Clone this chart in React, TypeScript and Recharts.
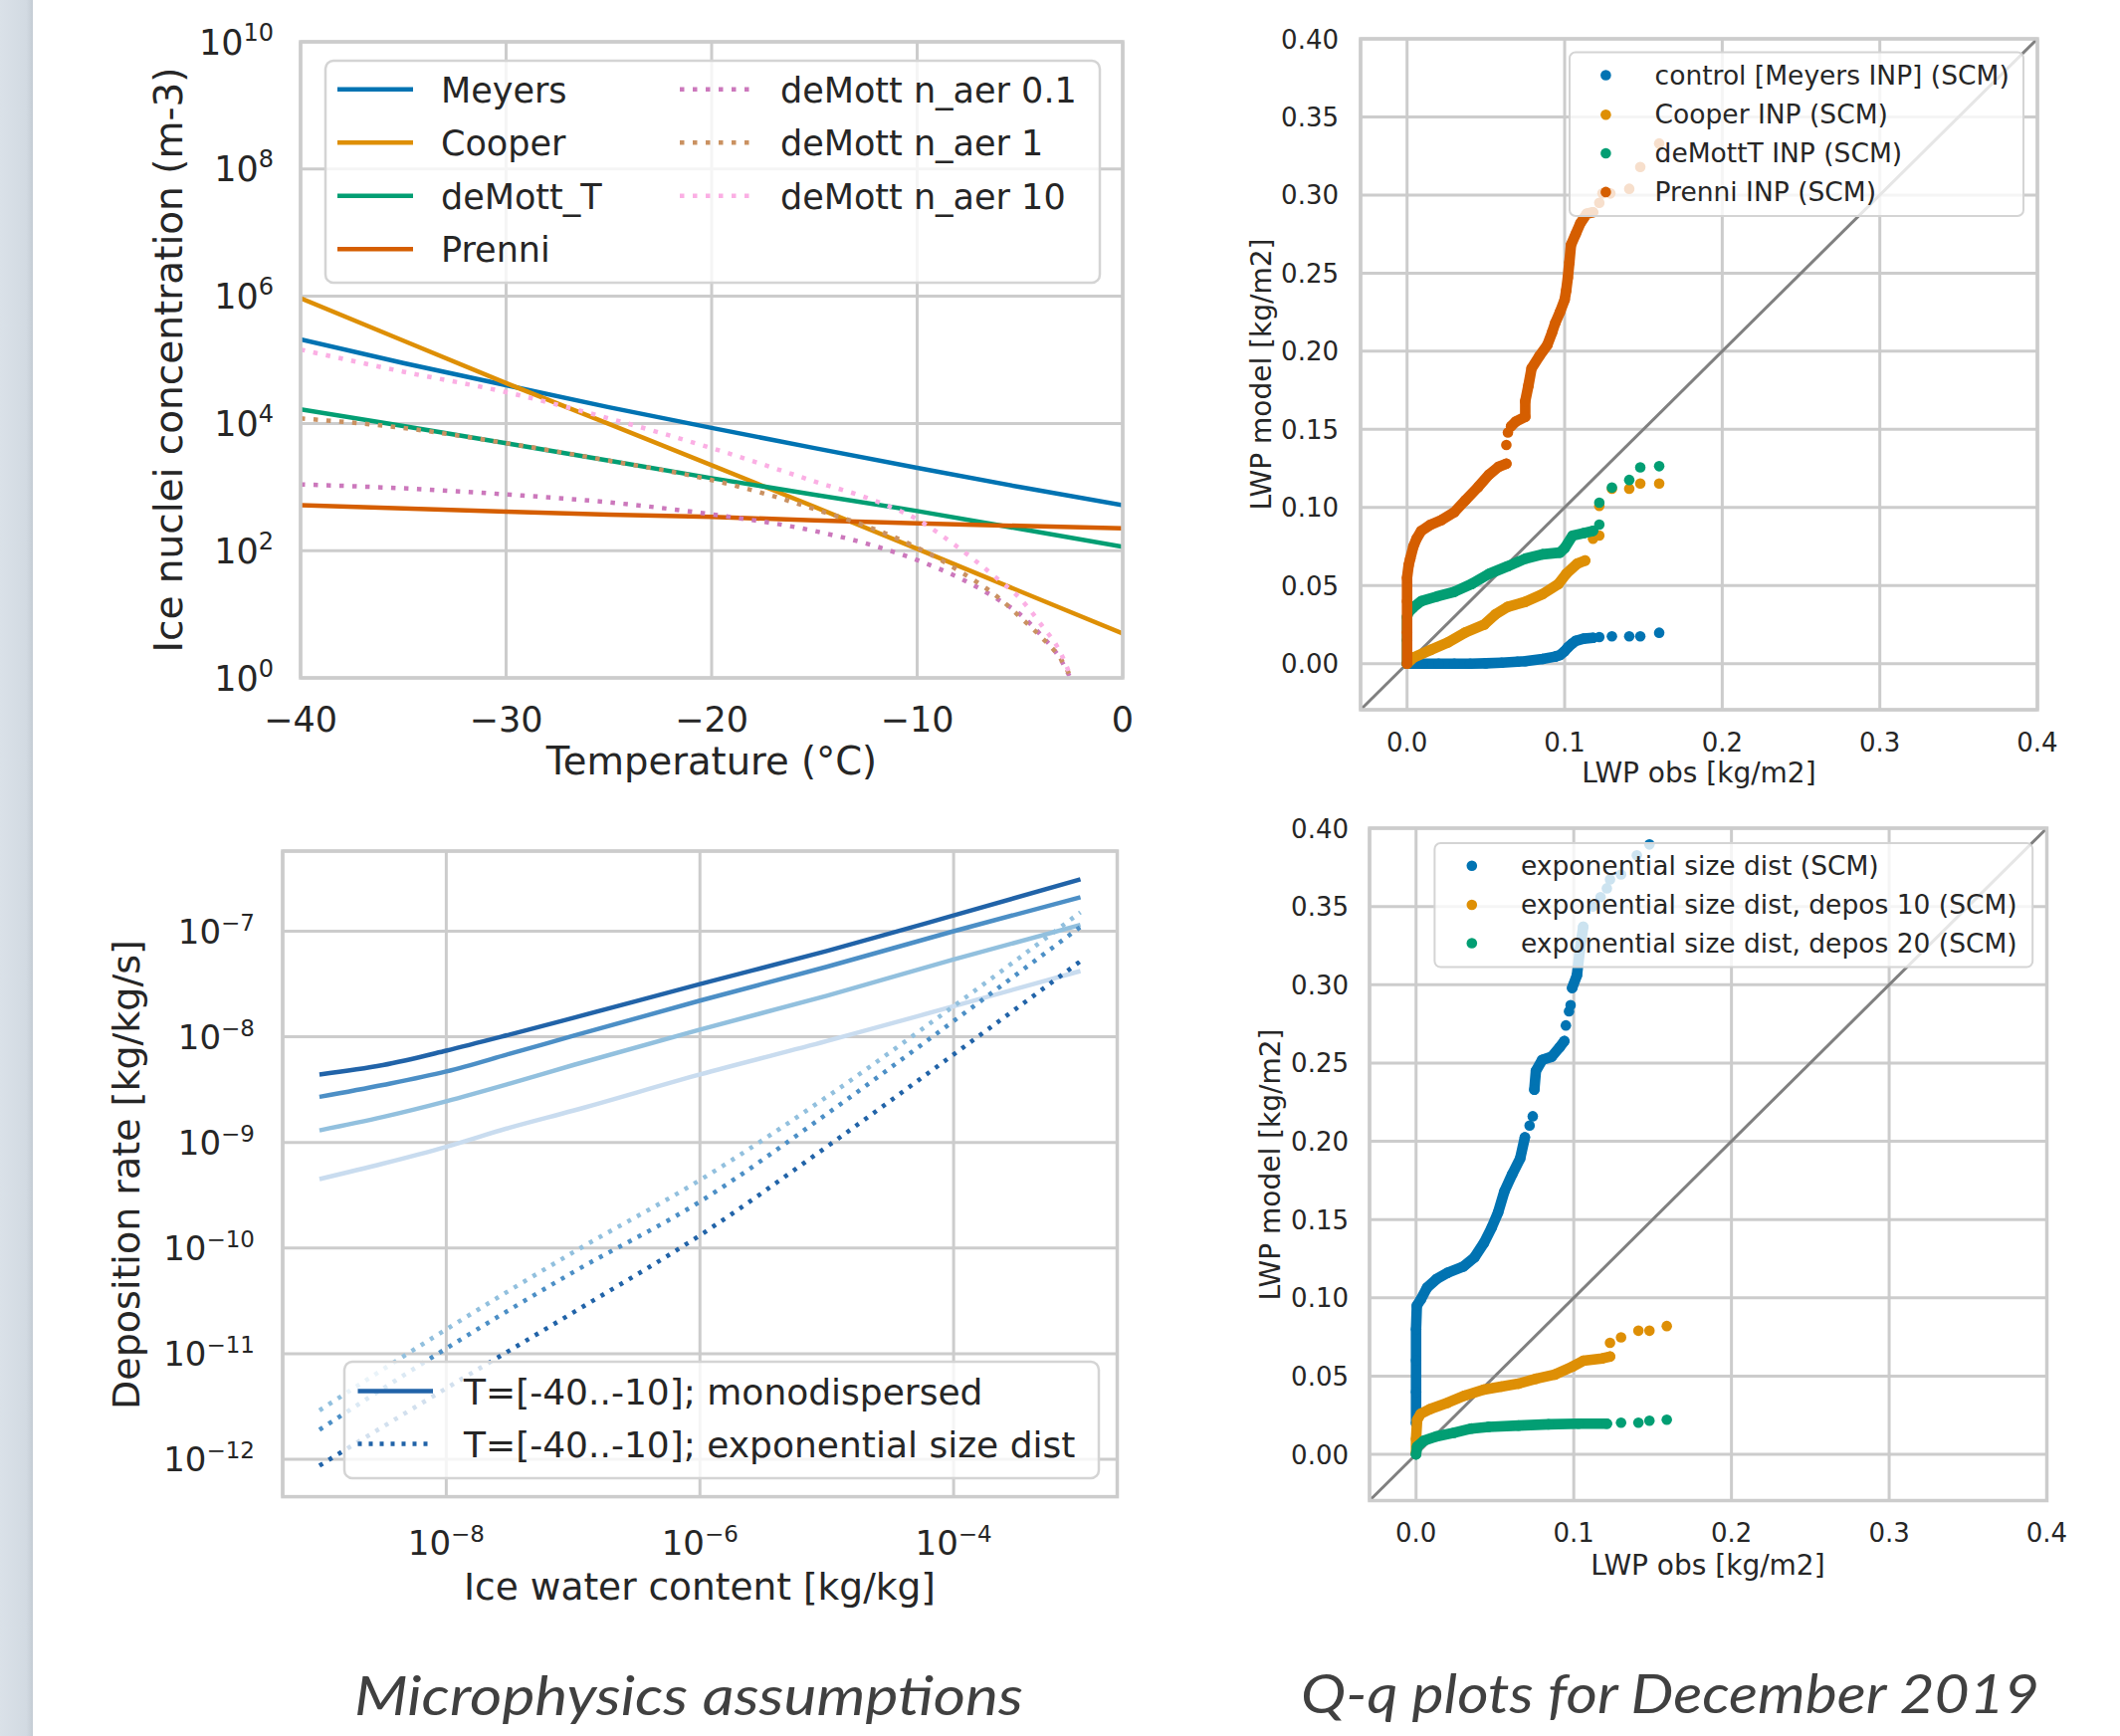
import React from 'react';
import {
  LineChart, Line, ScatterChart, Scatter, XAxis, YAxis, CartesianGrid, ReferenceLine,
} from 'recharts';

const FONT = '"DejaVu Sans", Verdana, sans-serif';
const INK = '#262626';
const GRID = '#cccccc';

// seaborn "colorblind" palette
const BLUE = '#0173b2';
const ORANGE = '#de8f05';
const GREEN = '#029e73';
const RED = '#d55e00';
const PINK = '#cc78bc';
const BROWN = '#ca9161';
const LIGHTPINK = '#fbafe4';

// Blues shades used for the deposition panel
const B1 = '#2163a8';
const B2 = '#4c8fc6';
const B3 = '#92c0de';
const B4 = '#c9dcef';

// ---------- top left: ice nuclei concentration vs temperature ----------
const tempSteps = [-40, -35, -30, -25, -20, -15, -10, -5, 0];
const meyersN = [2.1e5, 8.9e4, 4.0e4, 1.8e4, 8.5e3, 4.1e3, 2.0e3, 1.0e3, 5.2e2];
const cooperN = [9.3e5, 2.0e5, 4.3e4, 9.8e3, 2.2e3, 4.9e2, 1.07e2, 23, 5.0];
const demottTN = [1.66e4, 9.1e3, 4.9e3, 2.6e3, 1.38e3, 7.6e2, 4.2e2, 2.2e2, 1.15e2];
const prenniN = [5.2e2, 4.6e2, 4.1e2, 3.7e2, 3.4e2, 3.0e2, 2.7e2, 2.45e2, 2.24e2];

const aer01Temps = [-40, -35, -30, -25, -20, -15, -12, -10, -8, -6, -5, -4, -3, -2.55];
const aer01N = [1.1e3, 955, 767, 575, 372, 204, 117, 71, 38, 16.6, 10, 4.8, 1.9, 1];
const aer1Temps = [-40, -35, -30, -25, -20, -17, -15, -12.5, -10, -8, -6, -5, -4, -3, -2.5];
const aer1N = [1.2e4, 8.5e3, 4.9e3, 2.6e3, 1.29e3, 7.2e2, 4.5e2, 2.45e2, 1.12e2, 49, 17.8, 9.1, 4.5, 1.95, 1];
const aer10Temps = [-40, -35, -30, -25, -20, -15, -12, -10, -8, -6, -5, -4, -3, -2.5];
const aer10N = [1.45e5, 6.5e4, 3.1e4, 1.2e4, 4.1e3, 1.23e3, 6.0e2, 3.1e2, 1.12e2, 34, 17.8, 7.1, 2.4, 1];

const tempTicks = [-40, -30, -20, -10, 0];
const inpTicks = [1, 1e2, 1e4, 1e6, 1e8, 1e10];

// ---------- bottom left: deposition rate vs ice water content ----------
const iwcMono = [1e-9, 3.16e-9, 1e-8, 3.16e-8, 1e-7, 1e-6, 1e-5, 1e-4, 1e-3];
const monoT1 = [4.4e-9, 5.4e-9, 7.4e-9, 1.05e-8, 1.51e-8, 3.16e-8, 6.5e-8, 1.41e-7, 3.1e-7];
const monoT2 = [2.7e-9, 3.5e-9, 4.7e-9, 6.9e-9, 1.02e-8, 2.2e-8, 4.6e-8, 1.0e-7, 2.1e-7];
const monoT3 = [1.3e-9, 1.74e-9, 2.45e-9, 3.6e-9, 5.4e-9, 1.17e-8, 2.45e-8, 5.4e-8, 1.15e-7];
const monoT4 = [4.5e-10, 6.3e-10, 9.1e-10, 1.38e-9, 2.0e-9, 4.4e-9, 9.1e-9, 1.95e-8, 4.2e-8];
const iwcExpo = [1e-9, 1e-8, 1e-7, 1e-6, 1e-5, 1e-4, 1e-3];
const expoT1 = [8.7e-13, 4.7e-12, 2.45e-11, 1.32e-10, 9.1e-10, 6.8e-9, 5.2e-8];
const expoT2 = [1.9e-12, 1.12e-11, 5.9e-11, 2.75e-10, 1.86e-9, 1.41e-8, 1.1e-7];
const expoT3 = [2.9e-12, 1.7e-11, 9.1e-11, 4.4e-10, 2.7e-9, 1.95e-8, 1.51e-7];
const iwcTicks = [1e-8, 1e-6, 1e-4];
const depTicks = [1e-12, 1e-11, 1e-10, 1e-9, 1e-8, 1e-7];

// ---------- right column: q-q plots (obs, model) ----------
const controlDense = [[0, 0], [0.01, 0], [0.02, 0], [0.03, 0], [0.04, 0], [0.05, 0.0002], [0.06, 0.0006], [0.07, 0.0012], [0.075, 0.0016], [0.086, 0.003], [0.094, 0.0045], [0.097, 0.0055], [0.1, 0.008], [0.102, 0.0104], [0.105, 0.013], [0.107, 0.0146], [0.112, 0.016], [0.118, 0.0165]];
const controlTail = [[0.122, 0.017], [0.13, 0.0175], [0.141, 0.0175], [0.148, 0.0175], [0.16, 0.0198]];
const cooperDense = [[0, 0], [0.004, 0.0039], [0.015, 0.0088], [0.026, 0.0136], [0.037, 0.02], [0.049, 0.025], [0.056, 0.0315], [0.064, 0.0364], [0.075, 0.0396], [0.086, 0.0445], [0.096, 0.051], [0.101, 0.0575], [0.108, 0.064], [0.113, 0.066]];
const cooperTail = [[0.118, 0.08], [0.122, 0.082], [0.122, 0.101], [0.13, 0.112], [0.141, 0.112], [0.148, 0.1153], [0.16, 0.1153]];
const demottDense = [[0, 0], [0, 0.015], [0, 0.03], [0.001, 0.033], [0.004, 0.036], [0.009, 0.04], [0.019, 0.043], [0.03, 0.046], [0.041, 0.051], [0.052, 0.0575], [0.064, 0.0624], [0.075, 0.0672], [0.086, 0.07], [0.097, 0.0711], [0.1, 0.074], [0.105, 0.0819], [0.112, 0.0835], [0.118, 0.085]];
const demottTail = [[0.122, 0.089], [0.122, 0.103], [0.13, 0.1127], [0.141, 0.1176], [0.148, 0.1257], [0.16, 0.1264]];
const prenniDense = [[0, 0], [0, 0.02], [0, 0.04], [0, 0.055], [0.001, 0.063], [0.002, 0.0672], [0.004, 0.075], [0.006, 0.08], [0.009, 0.085], [0.015, 0.089], [0.022, 0.092], [0.03, 0.097], [0.037, 0.1046], [0.045, 0.113], [0.052, 0.121], [0.058, 0.126], [0.063, 0.128]];
const prenniUpper = [[0.066, 0.152], [0.069, 0.155], [0.075, 0.158], [0.075, 0.168], [0.077, 0.178], [0.079, 0.189], [0.084, 0.197], [0.089, 0.204], [0.092, 0.212], [0.094, 0.218], [0.097, 0.225], [0.1, 0.233], [0.101, 0.239], [0.102, 0.247], [0.103, 0.257], [0.104, 0.268], [0.107, 0.275], [0.11, 0.282], [0.114, 0.288], [0.118, 0.289]];
const prenniTail = [[0.063, 0.14], [0.064, 0.148], [0.122, 0.295], [0.124, 0.301], [0.129, 0.301], [0.141, 0.304], [0.148, 0.318], [0.16, 0.333]];

const expDense = [[0, 0.02], [0, 0.04], [0, 0.06], [0, 0.08], [0.0005, 0.095], [0.003, 0.099], [0.007, 0.1066], [0.013, 0.112], [0.02, 0.116], [0.03, 0.12], [0.037, 0.1258], [0.043, 0.135], [0.048, 0.145], [0.052, 0.1545], [0.056, 0.168], [0.061, 0.179], [0.066, 0.189], [0.069, 0.2025]];
const expMid = [[0.075, 0.233], [0.076, 0.245], [0.08, 0.252], [0.086, 0.254], [0.091, 0.26], [0.094, 0.264]];
const expUpper = [[0.099, 0.298], [0.102, 0.306], [0.104, 0.323], [0.106, 0.337]];
const expTail = [[0.072, 0.21], [0.074, 0.216], [0.095, 0.274], [0.097, 0.283], [0.098, 0.287], [0.112, 0.35], [0.117, 0.356], [0.121, 0.3616], [0.123, 0.3673], [0.13, 0.3704], [0.14, 0.3827], [0.148, 0.3896]];
const depos10Dense = [[0, 0.001], [0, 0.01], [0.0007, 0.022], [0.003, 0.026], [0.009, 0.029], [0.02, 0.033], [0.031, 0.0376], [0.043, 0.0414], [0.054, 0.0433], [0.065, 0.0452], [0.076, 0.0483], [0.088, 0.051], [0.099, 0.056], [0.106, 0.0598], [0.118, 0.0613], [0.123, 0.0625]];
const depos10Tail = [[0.123, 0.0713], [0.13, 0.0748], [0.141, 0.079], [0.148, 0.079], [0.159, 0.082]];
const depos20Dense = [[0, 0], [0.0007, 0.005], [0.005, 0.0088], [0.013, 0.0115], [0.024, 0.0138], [0.035, 0.0165], [0.046, 0.0176], [0.065, 0.0184], [0.084, 0.0192], [0.103, 0.0196], [0.121, 0.0196]];
const depos20Tail = [[0.13, 0.0203], [0.141, 0.0203], [0.148, 0.0215], [0.159, 0.0222]];

const lwpDomain = [-0.0295, 0.4];
const lwpXTicks = [0, 0.1, 0.2, 0.3, 0.4];
const lwpYTicks = [0, 0.05, 0.1, 0.15, 0.2, 0.25, 0.3, 0.35, 0.4];
const oneToOne = [{ x: -0.0295, y: -0.0295 }, { x: 0.4, y: 0.4 }];

// plot-area boxes on the page
const P1 = { L: 302, T: 42, R: 1128, B: 681 };
const P2 = { L: 1367, T: 39, R: 2047, B: 713 };
const P3 = { L: 284, T: 855, R: 1122.5, B: 1503.6 };
const P4 = { L: 1376, T: 832, R: 2056.5, B: 1507.5 };

const pts = (xs: number[], ys: number[]) => xs.map((x, i) => ({ x, y: ys[i] }));
const pairs = (a: number[][]) => a.map(([x, y]) => ({ x, y }));
const expStr = (e: number) => (e < 0 ? '\u2212' + Math.abs(e) : String(e));

const powTick = (anchor: 'end' | 'middle', size: number, sup: number, dyBase: number, rise: number) =>
  (props: any) => {
    const { x, y, payload } = props;
    const e = Math.round(Math.log10(payload.value));
    return (
      <text x={x} y={y + dyBase} textAnchor={anchor} fontFamily={FONT} fontSize={size} fill={INK}>
        10<tspan dy={-rise} fontSize={sup}>{expStr(e)}</tspan>
      </text>
    );
  };

const numTick = (anchor: 'end' | 'middle', size: number, dyBase: number, fmt: (v: number) => string) =>
  (props: any) => {
    const { x, y, payload } = props;
    return (
      <text x={x} y={y + dyBase} textAnchor={anchor} fontFamily={FONT} fontSize={size} fill={INK}>
        {fmt(payload.value)}
      </text>
    );
  };

const tempFmt = (v: number) => (v < 0 ? '\u2212' + Math.abs(v) : String(v));

const p1Series = [
  { name: 'Meyers', data: pts(tempSteps, meyersN), color: BLUE, dash: undefined, curve: 'linear' },
  { name: 'Cooper', data: pts(tempSteps, cooperN), color: ORANGE, dash: undefined, curve: 'linear' },
  { name: 'deMott_T', data: pts(tempSteps, demottTN), color: GREEN, dash: undefined, curve: 'linear' },
  { name: 'Prenni', data: pts(tempSteps, prenniN), color: RED, dash: undefined, curve: 'linear' },
  { name: 'deMott n_aer 0.1', data: pts(aer01Temps, aer01N), color: PINK, dash: '4.5 8.5', curve: 'monotone' },
  { name: 'deMott n_aer 1', data: pts(aer1Temps, aer1N), color: BROWN, dash: '4.5 8.5', curve: 'monotone' },
  { name: 'deMott n_aer 10', data: pts(aer10Temps, aer10N), color: LIGHTPINK, dash: '4.5 8.5', curve: 'monotone' },
];

const p3Series = [
  { key: 'm1', data: pts(iwcMono, monoT1), color: B1, dash: undefined },
  { key: 'm2', data: pts(iwcMono, monoT2), color: B2, dash: undefined },
  { key: 'm3', data: pts(iwcMono, monoT3), color: B3, dash: undefined },
  { key: 'm4', data: pts(iwcMono, monoT4), color: B4, dash: undefined },
  { key: 'e3', data: pts(iwcExpo, expoT3), color: B3, dash: '4 7' },
  { key: 'e2', data: pts(iwcExpo, expoT2), color: B2, dash: '4 7' },
  { key: 'e1', data: pts(iwcExpo, expoT1), color: B1, dash: '4 7' },
];

const p2Groups = [
  { key: 'c1', data: controlDense, color: BLUE, joined: true },
  { key: 'c2', data: controlTail, color: BLUE, joined: false },
  { key: 'k1', data: cooperDense, color: ORANGE, joined: true },
  { key: 'k2', data: cooperTail, color: ORANGE, joined: false },
  { key: 'd1', data: demottDense, color: GREEN, joined: true },
  { key: 'd2', data: demottTail, color: GREEN, joined: false },
  { key: 'p1', data: prenniDense, color: RED, joined: true },
  { key: 'p2', data: prenniUpper, color: RED, joined: true },
  { key: 'p3', data: prenniTail, color: RED, joined: false },
];

const p4Groups = [
  { key: 'e1', data: expDense, color: BLUE, joined: true },
  { key: 'e2', data: expMid, color: BLUE, joined: true },
  { key: 'e3', data: expUpper, color: BLUE, joined: true },
  { key: 'e4', data: expTail, color: BLUE, joined: false },
  { key: 'o1', data: depos10Dense, color: ORANGE, joined: true },
  { key: 'o2', data: depos10Tail, color: ORANGE, joined: false },
  { key: 'g1', data: depos20Dense, color: GREEN, joined: true },
  { key: 'g2', data: depos20Tail, color: GREEN, joined: false },
];

const DOT_R = 5.3;
const dotShape = (props: any) => <circle cx={props.cx} cy={props.cy} r={DOT_R} fill={props.fill} />;

function IcePanel() {
  const padL = 200, padT = 40, padR = 20, padB = 100;
  const w = padL + (P1.R - P1.L) + padR;
  const h = padT + (P1.B - P1.T) + padB;
  return (
    <div style={{ position: 'absolute', left: P1.L - padL, top: P1.T - padT }}>
      <LineChart width={w} height={h} margin={{ top: padT, right: padR, bottom: 0, left: 0 }}>
        <CartesianGrid stroke={GRID} strokeWidth={3} />
        <XAxis type="number" dataKey="x" domain={[-40, 0]} ticks={tempTicks} interval={0} allowDataOverflow
          height={padB} tickLine={false} axisLine={false} tickSize={0} tickMargin={54}
          tick={numTick('middle', 35, 0, tempFmt)} />
        <YAxis type="number" scale="log" domain={[1, 1e10]} ticks={inpTicks} interval={0} allowDataOverflow
          width={padL} tickLine={false} axisLine={false} tickSize={0} tickMargin={27}
          tick={powTick('end', 35, 24, 12.5, 14)} />
        {p1Series.map((s) => (
          <Line key={s.name} data={s.data} dataKey="y" type={s.curve as any} stroke={s.color} strokeWidth={4.5}
            strokeDasharray={s.dash} dot={false} activeDot={false} isAnimationActive={false} />
        ))}
      </LineChart>
    </div>
  );
}

function DepositionPanel() {
  const padL = 200, padT = 40, padR = 20, padB = 110;
  const w = padL + (P3.R - P3.L) + padR;
  const h = padT + (P3.B - P3.T) + padB;
  return (
    <div style={{ position: 'absolute', left: P3.L - padL, top: P3.T - padT }}>
      <LineChart width={w} height={h} margin={{ top: padT, right: padR, bottom: 0, left: 0 }}>
        <CartesianGrid stroke={GRID} strokeWidth={3} />
        <XAxis type="number" dataKey="x" scale="log" domain={[5.13e-10, 1.95e-3]} ticks={iwcTicks} interval={0}
          allowDataOverflow height={padB} tickLine={false} axisLine={false} tickSize={0} tickMargin={58}
          tick={powTick('middle', 34, 23, 0, 13)} />
        <YAxis type="number" scale="log" domain={[4.42e-13, 5.74e-7]} ticks={depTicks} interval={0} allowDataOverflow
          width={padL} tickLine={false} axisLine={false} tickSize={0} tickMargin={28}
          tick={powTick('end', 34, 23, 12, 13)} />
        {p3Series.map((s) => (
          <Line key={s.key} data={s.data} dataKey="y" type="monotone" stroke={s.color} strokeWidth={4.5}
            strokeDasharray={s.dash} dot={false} activeDot={false} isAnimationActive={false} />
        ))}
      </LineChart>
    </div>
  );
}

function QqPanel({ box, groups, tickGap }: { box: typeof P2; groups: typeof p2Groups; tickGap: number }) {
  const padL = 150, padT = 40, padR = 20, padB = 90;
  const w = padL + (box.R - box.L) + padR;
  const h = padT + (box.B - box.T) + padB;
  return (
    <div style={{ position: 'absolute', left: box.L - padL, top: box.T - padT }}>
      <ScatterChart width={w} height={h} margin={{ top: padT, right: padR, bottom: 0, left: 0 }}>
        <CartesianGrid stroke={GRID} strokeWidth={3} />
        <XAxis type="number" dataKey="x" domain={lwpDomain} ticks={lwpXTicks} interval={0} allowDataOverflow
          height={padB} tickLine={false} axisLine={false} tickSize={0} tickMargin={41.5}
          tick={numTick('middle', 26, 0, (v) => v.toFixed(1))} />
        <YAxis type="number" dataKey="y" domain={lwpDomain} ticks={lwpYTicks} interval={0} allowDataOverflow
          width={padL} tickLine={false} axisLine={false} tickSize={0} tickMargin={tickGap}
          tick={numTick('end', 26, 9.5, (v) => v.toFixed(2))} />
        <ReferenceLine segment={oneToOne} stroke="#808080" strokeWidth={3} />
        {groups.map((g) => (
          <Scatter key={g.key} data={pairs(g.data)} fill={g.color} shape={dotShape} isAnimationActive={false}
            line={g.joined ? { stroke: g.color, strokeWidth: DOT_R * 2, strokeLinecap: 'round', strokeLinejoin: 'round' } as any : false} />
        ))}
      </ScatterChart>
    </div>
  );
}

const txt = (size: number) => ({ fontFamily: FONT, fontSize: size, fill: INK });
const caption = { fontFamily: 'Lato, sans-serif', fontStyle: 'italic', fontSize: 55, fill: '#404040' };

function Overlay() {
  const box = (b: typeof P1, key: string) => (
    <rect key={key} x={b.L} y={b.T} width={b.R - b.L} height={b.B - b.T} fill="none" stroke={GRID} strokeWidth={3.5} />
  );
  const p1Rows = [89.7, 143.3, 196.7, 250.3];
  const p2Rows = [75.5, 115.3, 154, 192.9];
  const p4Rows = [869.8, 909, 947.5];
  const p2Names = ['control [Meyers INP] (SCM)', 'Cooper INP (SCM)', 'deMottT INP (SCM)', 'Prenni INP (SCM)'];
  const p2Colors = [BLUE, ORANGE, GREEN, RED];
  const p4Names = ['exponential size dist (SCM)', 'exponential size dist, depos 10 (SCM)', 'exponential size dist, depos 20 (SCM)'];
  const p4Colors = [BLUE, ORANGE, GREEN];
  return (
    <svg width={2130} height={1744} style={{ position: 'absolute', left: 0, top: 0, pointerEvents: 'none' }}>
      {box(P1, 'b1')}{box(P2, 'b2')}{box(P3, 'b3')}{box(P4, 'b4')}

      {/* legend, top left */}
      <rect x={327} y={61} width={778} height={223} rx={8} fill="#fff" fillOpacity={0.8} stroke="#d4d4d4" strokeWidth={2.5} />
      {p1Series.map((s, i) => {
        const col = i < 4 ? 0 : 1;
        const cy = p1Rows[col ? i - 4 : i];
        const hx = col ? 683 : 339;
        const tx = col ? 784 : 443;
        return (
          <g key={s.name}>
            <line x1={hx} x2={hx + 76} y1={cy} y2={cy} stroke={s.color} strokeWidth={4.5} strokeDasharray={s.dash} />
            <text x={tx} y={cy + 13} {...txt(35)}>{s.name}</text>
          </g>
        );
      })}

      {/* legend, top right */}
      <rect x={1577} y={52.5} width={456} height={164.5} rx={6} fill="#fff" fillOpacity={0.8} stroke="#d4d4d4" strokeWidth={2} />
      {p2Names.map((n, i) => (
        <g key={n}>
          <circle cx={1613.4} cy={p2Rows[i]} r={DOT_R} fill={p2Colors[i]} />
          <text x={1662.6} y={p2Rows[i] + 9} {...txt(26.5)}>{n}</text>
        </g>
      ))}

      {/* legend, bottom left */}
      <rect x={346} y={1368} width={758} height={117} rx={8} fill="#fff" fillOpacity={0.8} stroke="#d4d4d4" strokeWidth={2.5} />
      <line x1={359.5} x2={435} y1={1397.5} y2={1397.5} stroke={B1} strokeWidth={4.5} />
      <text x={466} y={1410.5} {...txt(36)}>T=[-40..-10]; monodispersed</text>
      <line x1={359.5} x2={435} y1={1450.5} y2={1450.5} stroke={B1} strokeWidth={4.5} strokeDasharray="4 7" />
      <text x={466} y={1463.5} {...txt(36)}>T=[-40..-10]; exponential size dist</text>

      {/* legend, bottom right */}
      <rect x={1441.4} y={847} width={600.8} height={124.6} rx={6} fill="#fff" fillOpacity={0.8} stroke="#d4d4d4" strokeWidth={2} />
      {p4Names.map((n, i) => (
        <g key={n}>
          <circle cx={1478.8} cy={p4Rows[i]} r={DOT_R} fill={p4Colors[i]} />
          <text x={1528} y={p4Rows[i] + 9} {...txt(26.5)}>{n}</text>
        </g>
      ))}

      {/* axis labels */}
      <text x={715} y={778} textAnchor="middle" {...txt(38.5)}>Temperature (°C)</text>
      <text transform="translate(183,361.5) rotate(-90)" textAnchor="middle" {...txt(39)}>Ice nuclei concentration (m-3)</text>
      <text x={1707} y={786} textAnchor="middle" {...txt(28)}>LWP obs [kg/m2]</text>
      <text transform="translate(1277,376) rotate(-90)" textAnchor="middle" {...txt(28)}>LWP model [kg/m2]</text>
      <text x={703} y={1607} textAnchor="middle" {...txt(37.5)}>Ice water content [kg/kg]</text>
      <text transform="translate(140,1180) rotate(-90)" textAnchor="middle" {...txt(38)}>Deposition rate [kg/kg/s]</text>
      <text x={1716} y={1582} textAnchor="middle" {...txt(28)}>LWP obs [kg/m2]</text>
      <text transform="translate(1286,1170) rotate(-90)" textAnchor="middle" {...txt(28)}>LWP model [kg/m2]</text>

      {/* captions */}
      <text x={692} y={1723} textAnchor="middle" textLength={672} lengthAdjust="spacingAndGlyphs" {...caption}>Microphysics assumptions</text>
      <text x={1678} y={1721} textAnchor="middle" textLength={742} lengthAdjust="spacingAndGlyphs" {...caption}>Q-q plots for December 2019</text>
    </svg>
  );
}

export default function App() {
  return (
    <div style={{ position: 'absolute', left: 0, top: 0, width: 2130, height: 1744, background: '#fff', overflow: 'hidden', fontFamily: FONT }}>
      <div style={{ position: 'absolute', left: 0, top: 0, width: 33, height: 1744, background: 'linear-gradient(to right, #dae1e8, #d2dae2 80%, #c4ccd4)' }} />
      <IcePanel />
      <QqPanel box={P2} groups={p2Groups} tickGap={22} />
      <DepositionPanel />
      <QqPanel box={P4} groups={p4Groups} tickGap={21} />
      <Overlay />
    </div>
  );
}
